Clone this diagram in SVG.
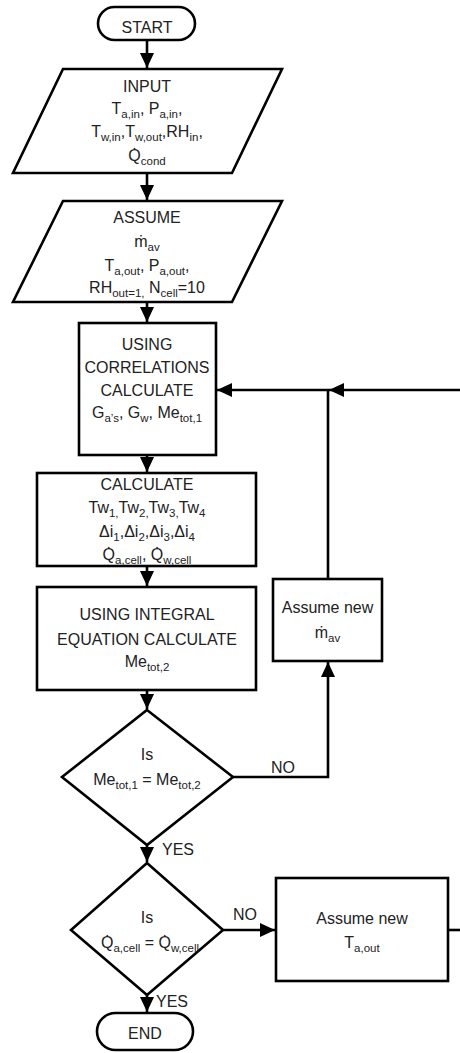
<svg xmlns="http://www.w3.org/2000/svg" width="460" height="1053" viewBox="0 0 460 1053">
<style>
.shape{fill:#fff;stroke:#000;stroke-width:2.6}
.line{fill:none;stroke:#000;stroke-width:2.6}
text{font-family:"Liberation Sans",Arial,sans-serif;font-size:16px;fill:#222;text-anchor:middle}
.lbl{text-anchor:start}
.s{font-size:11.5px}
</style>
<defs>
<marker id="arr" markerUnits="userSpaceOnUse" markerWidth="16" markerHeight="14" refX="15" refY="7" orient="auto">
<path d="M0,0 L15,7 L0,14 Z" fill="#000"/>
</marker>
</defs>
<rect width="460" height="1053" fill="#fff"/>
<g id="connectors">
<line class="line" x1="147" y1="40" x2="147" y2="68" marker-end="url(#arr)"/>
<line class="line" x1="147" y1="173" x2="147" y2="200" marker-end="url(#arr)"/>
<line class="line" x1="147" y1="302" x2="147" y2="322" marker-end="url(#arr)"/>
<line class="line" x1="147" y1="455" x2="147" y2="472" marker-end="url(#arr)"/>
<line class="line" x1="147" y1="566" x2="147" y2="586" marker-end="url(#arr)"/>
<line class="line" x1="147" y1="690" x2="147" y2="709" marker-end="url(#arr)"/>
<line class="line" x1="147" y1="845" x2="147" y2="862" marker-end="url(#arr)"/>
<line class="line" x1="147" y1="995" x2="147" y2="1012" marker-end="url(#arr)"/>
<line class="line" x1="462" y1="390" x2="329" y2="390" marker-end="url(#arr)"/>
<line class="line" x1="328" y1="579" x2="328" y2="390"/>
<line class="line" x1="329" y1="390" x2="217" y2="390" marker-end="url(#arr)"/>
<polyline class="line" points="233,777 328,777 328,662" marker-end="url(#arr)"/>
<line class="line" x1="223" y1="930" x2="275" y2="930" marker-end="url(#arr)"/>
<line class="line" x1="448" y1="930" x2="462" y2="930"/>
<text class="lbl" x="271" y="773">NO</text>
<text class="lbl" x="162" y="855">YES</text>
<text class="lbl" x="233" y="920">NO</text>
<text class="lbl" x="156" y="1007">YES</text>
</g>
<g id="start">
<rect class="shape" x="98" y="7" width="97" height="33" rx="16.5"/>
<text x="147" y="33">START</text>
</g>
<g id="input">
<polygon class="shape" points="63,69 282,69 232,173 13,173"/>
<text x="147" y="92">INPUT</text>
<text x="147" y="114">T<tspan class="s" dy="4">a,in</tspan><tspan dy="-4">, P</tspan><tspan class="s" dy="4">a,in</tspan><tspan dy="-4">,</tspan></text>
<text x="147" y="137">T<tspan class="s" dy="4">w,in</tspan><tspan dy="-4">,T</tspan><tspan class="s" dy="4">w,out</tspan><tspan dy="-4">,RH</tspan><tspan class="s" dy="4">in</tspan><tspan dy="-4">,</tspan></text>
<text x="147" y="161">Q&#x307;<tspan class="s" dy="4">cond</tspan></text>
</g>
<g id="assume">
<polygon class="shape" points="63,201 282,201 232,302 13,302"/>
<text x="147" y="223">ASSUME</text>
<text x="147" y="247">&#x1E41;<tspan class="s" dy="4">av</tspan></text>
<text x="147" y="271">T<tspan class="s" dy="4">a,out</tspan><tspan dy="-4">, P</tspan><tspan class="s" dy="4">a,out</tspan><tspan dy="-4">,</tspan></text>
<text x="147" y="293">RH<tspan class="s" dy="4">out=1,</tspan><tspan dy="-4"> N</tspan><tspan class="s" dy="4">cell</tspan><tspan dy="-4">=10</tspan></text>
</g>
<g id="correlations">
<rect class="shape" x="79" y="323" width="137" height="132"/>
<text x="147" y="350">USING</text>
<text x="147" y="373">CORRELATIONS</text>
<text x="147" y="396">CALCULATE</text>
<text x="147" y="418">G<tspan class="s" dy="4">a’s</tspan><tspan dy="-4">, G</tspan><tspan class="s" dy="4">w</tspan><tspan dy="-4">, Me</tspan><tspan class="s" dy="4">tot,1</tspan></text>
</g>
<g id="calculate">
<rect class="shape" x="37" y="473" width="219" height="93"/>
<text x="147" y="490">CALCULATE</text>
<text x="147" y="513">Tw<tspan class="s" dy="4">1,</tspan><tspan dy="-4">Tw</tspan><tspan class="s" dy="4">2,</tspan><tspan dy="-4">Tw</tspan><tspan class="s" dy="4">3,</tspan><tspan dy="-4">Tw</tspan><tspan class="s" dy="4">4</tspan></text>
<text x="147" y="537">Δi<tspan class="s" dy="4">1</tspan><tspan dy="-4">,Δi</tspan><tspan class="s" dy="4">2</tspan><tspan dy="-4">,Δi</tspan><tspan class="s" dy="4">3</tspan><tspan dy="-4">,Δi</tspan><tspan class="s" dy="4">4</tspan></text>
<text x="147" y="560">Q&#x307;<tspan class="s" dy="4">a,cell</tspan><tspan dy="-4">, Q&#x307;</tspan><tspan class="s" dy="4">w,cell</tspan></text>
</g>
<g id="integral">
<rect class="shape" x="37" y="587" width="219" height="103"/>
<text x="147" y="620">USING INTEGRAL</text>
<text x="147" y="645">EQUATION CALCULATE</text>
<text x="147" y="667">Me<tspan class="s" dy="4">tot,2</tspan></text>
</g>
<g id="assume-m">
<rect class="shape" x="273" y="579" width="109" height="82"/>
<text x="327.5" y="613">Assume new</text>
<text x="327.5" y="638">&#x1E41;<tspan class="s" dy="4">av</tspan></text>
</g>
<g id="decision1">
<polygon class="shape" points="147,710 233,777 147,845 62,777"/>
<text x="147" y="760">Is</text>
<text x="147" y="785">Me<tspan class="s" dy="4">tot,1</tspan><tspan dy="-4"> = Me</tspan><tspan class="s" dy="4">tot,2</tspan></text>
</g>
<g id="decision2">
<polygon class="shape" points="147,863 223,930 147,995 71,930"/>
<text x="147" y="923">Is</text>
<text x="150" y="948">Q&#x307;<tspan class="s" dy="4">a,cell</tspan><tspan dy="-4"> = Q&#x307;</tspan><tspan class="s" dy="4">w,cell</tspan></text>
</g>
<g id="assume-t">
<rect class="shape" x="276" y="878" width="172" height="103"/>
<text x="362" y="924">Assume new</text>
<text x="362" y="948">T<tspan class="s" dy="4">a,out</tspan></text>
</g>
<g id="end">
<rect class="shape" x="97" y="1013" width="96" height="37" rx="18.5"/>
<text x="145" y="1039">END</text>
</g>
</svg>
